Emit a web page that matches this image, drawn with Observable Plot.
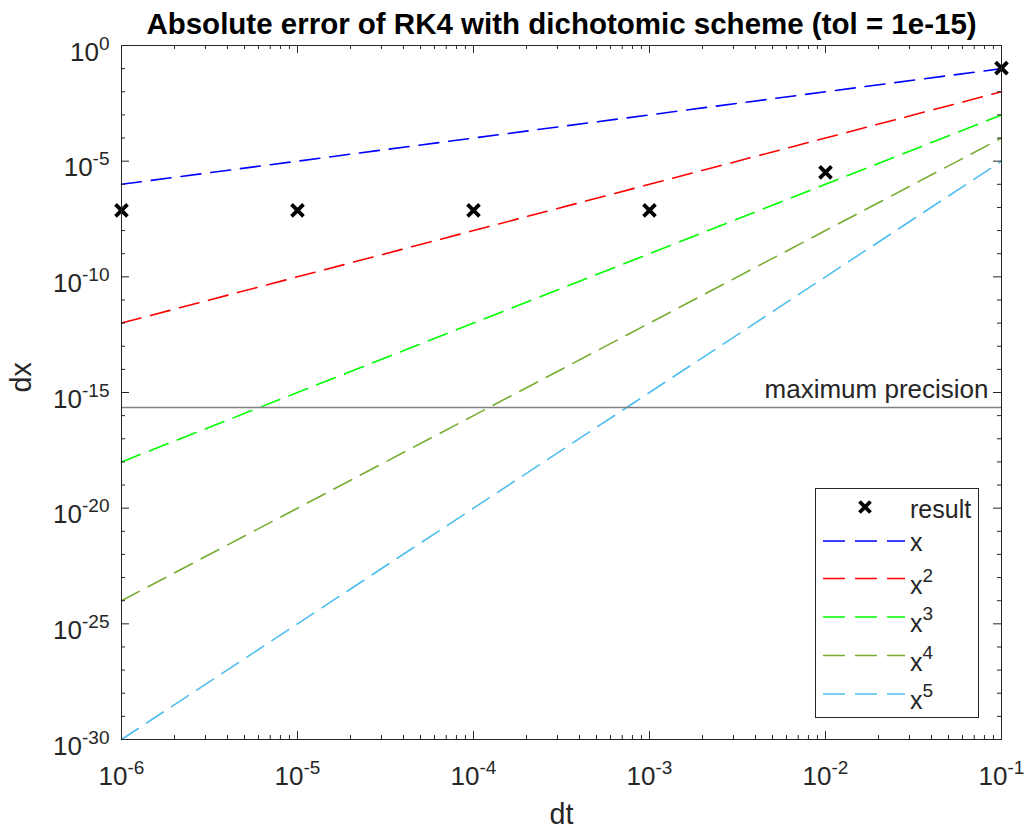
<!DOCTYPE html>
<html><head><meta charset="utf-8">
<script src="https://cdn.jsdelivr.net/npm/d3@7"></script>
<script src="https://cdn.jsdelivr.net/npm/@observablehq/plot@0.6"></script>
<style>
body{margin:0;background:#fff;}
#wrap{position:relative;width:1027px;height:829px;font-family:"Liberation Sans",Arial,Helvetica,sans-serif;}
#legend{position:absolute;left:815px;top:488px;}
</style></head><body><div id="wrap"></div>
<script>
// ---- data ----
const title = "Absolute error of RK4 with dichotomic scheme (tol = 1e-15)";
const xLabel = "dt";
const yLabel = "dx";
const dt = [1e-6, 1e-5, 1e-4, 1e-3, 1e-2, 1e-1];
const resultDx = [7.5e-8, 7.5e-8, 7.5e-8, 7.5e-8, 3.3e-6, 1.05e-1];
const refX1 = [1e-6, 1e-5, 1e-4, 1e-3, 1e-2, 1e-1];
const refX2 = [1e-12, 1e-10, 1e-8, 1e-6, 1e-4, 1e-2];
const refX3 = [1e-18, 1e-15, 1e-12, 1e-9, 1e-6, 1e-3];
const refX4 = [1e-24, 1e-20, 1e-16, 1e-12, 1e-8, 1e-4];
const refX5 = [1e-30, 1e-25, 1e-20, 1e-15, 1e-10, 1e-5];
const seriesNames = ["x", "x^2", "x^3", "x^4", "x^5"];
const seriesColors = ["#0000ff", "#ff0000", "#00ff00", "#77ac30", "#4dbeee"];
const resultLabel = "result";
const maxPrecision = 2.22e-16;
const maxPrecisionLabel = "maximum precision";
const xDomain = [1e-6, 1e-1];
const yDomain = [1e-30, 1];
const xTickValues = [1e-6, 1e-5, 1e-4, 1e-3, 1e-2, 1e-1];
const xTickLabels = ["10^-6", "10^-5", "10^-4", "10^-3", "10^-2", "10^-1"];
const yTickValues = [1e0, 1e-5, 1e-10, 1e-15, 1e-20, 1e-25, 1e-30];
const yTickLabels = ["10^0", "10^-5", "10^-10", "10^-15", "10^-20", "10^-25", "10^-30"];

// minor tick positions
const xMinorTicks = [];
for (let e = -6; e <= -2; e++) for (let m = 2; m <= 9; m++) xMinorTicks.push(m * Math.pow(10, e));
const yMinorTicks = [];
for (let e = 0; e >= -30; e--) if (e % 5 !== 0) yMinorTicks.push(Math.pow(10, e));

const refSeries = [refX1, refX2, refX3, refX4, refX5];
const lineRows = [];
refSeries.forEach((vals, i) => vals.forEach((v, j) => lineRows.push({dt: dt[j], dx: v, series: seriesNames[i]})));
const resultRows = dt.map((d, i) => ({dt: d, dx: resultDx[i]}));

// ---- layout ----
const W = 1027, H = 829;
const mL = 121, mR = 26, mT = 45, mB = 90;
const fw = W - mL - mR, fh = H - mT - mB;
const axisColor = "#262626";
const dash = "20,10";

const chart = Plot.plot({
  width: W, height: H,
  marginLeft: mL, marginRight: mR, marginTop: mT, marginBottom: mB,
  style: {fontFamily: '"Liberation Sans", Arial, Helvetica, sans-serif', background: "white", overflow: "visible"},
  x: {type: "log", domain: xDomain, axis: null},
  y: {type: "log", domain: yDomain, axis: null},
  color: {domain: seriesNames, range: seriesColors},
  marks: [
    // reference lines
    Plot.line(lineRows, {x: "dt", y: "dx", z: "series", stroke: "series", strokeWidth: 1.6, strokeDasharray: dash}),
    // maximum precision
    Plot.ruleY([maxPrecision], {stroke: "#808080", strokeWidth: 1.5}),
    Plot.text([maxPrecisionLabel], {x: () => xDomain[1], y: () => maxPrecision, text: d => d, textAnchor: "end", lineAnchor: "bottom", dx: -13, dy: -10, fontSize: 26, fill: axisColor}),
    // results
    Plot.dot(resultRows, {x: "dt", y: "dx", symbol: "times", r: 5.5, stroke: "black", strokeWidth: 3.8}),
    // frame
    Plot.frame({stroke: axisColor, strokeWidth: 1}),
    // ticks x
    Plot.tickX(xTickValues, {x: d => d, insetTop: fh - 8, stroke: axisColor}),
    Plot.tickX(xTickValues, {x: d => d, insetBottom: fh - 8, stroke: axisColor}),
    Plot.tickX(xMinorTicks, {x: d => d, insetTop: fh - 4, stroke: axisColor}),
    Plot.tickX(xMinorTicks, {x: d => d, insetBottom: fh - 4, stroke: axisColor}),
    // ticks y
    Plot.tickY(yTickValues, {y: d => d, insetRight: fw - 8, stroke: axisColor}),
    Plot.tickY(yTickValues, {y: d => d, insetLeft: fw - 8, stroke: axisColor}),
    Plot.tickY(yMinorTicks, {y: d => d, insetRight: fw - 4, stroke: axisColor}),
    Plot.tickY(yMinorTicks, {y: d => d, insetLeft: fw - 4, stroke: axisColor}),
    // tick labels
    Plot.text(xTickValues, {x: d => d, frameAnchor: "bottom", text: (d, i) => xTickLabels[i], lineAnchor: "bottom", dy: 45, fontSize: 26, fill: axisColor, textAnchor: "middle"}),
    Plot.text(yTickValues, {y: d => d, frameAnchor: "left", text: (d, i) => yTickLabels[i], lineAnchor: "bottom", dx: -12, dy: 15, fontSize: 26, fill: axisColor, textAnchor: "end"}),
    // axis labels
    Plot.text([xLabel], {frameAnchor: "bottom", text: d => d, lineAnchor: "bottom", dy: 84, fontSize: 28.6, fill: axisColor}),
    Plot.text([yLabel], {frameAnchor: "left", text: d => d, lineAnchor: "middle", rotate: -90, dx: -100, fontSize: 28.6, fill: axisColor}),
    // title
    Plot.text([title], {frameAnchor: "top", text: d => d, lineAnchor: "bottom", dy: -12, fontSize: 29.5, fontWeight: "bold", fill: "black"})
  ]
});

// superscripts
d3.select(chart).selectAll("text").each(function () {
  const t = this.textContent;
  const m = /^(.*)\^(.+)$/.exec(t);
  if (!m) return;
  this.textContent = m[1];
  d3.select(this).append("tspan").attr("dy", -11).attr("font-size", 19).text(m[2]);
});

const wrap = document.getElementById("wrap");
wrap.appendChild(chart);

// ---- legend ----
const lg = d3.select(wrap).append("svg").attr("id", "legend").attr("width", 164).attr("height", 230)
  .style("font-family", '"Liberation Sans", Arial, Helvetica, sans-serif');
lg.append("rect").attr("x", 0.5).attr("y", 0.5).attr("width", 163).attr("height", 229).attr("fill", "white").attr("stroke", axisColor);
// result marker
const mk = lg.append("g").attr("transform", "translate(50,19)").attr("stroke", "black").attr("stroke-width", 3.8);
mk.append("line").attr("x1", -5.5).attr("y1", -5.5).attr("x2", 5.5).attr("y2", 5.5);
mk.append("line").attr("x1", -5.5).attr("y1", 5.5).attr("x2", 5.5).attr("y2", -5.5);
lg.append("text").attr("x", 95).attr("y", 30).attr("font-size", 25).attr("fill", axisColor).text(resultLabel);
const rows = [53, 90.5, 129, 167.5, 206];
seriesNames.forEach((name, i) => {
  const y = rows[i];
  lg.append("line").attr("x1", 8).attr("x2", 90).attr("y1", y).attr("y2", y)
    .attr("stroke", seriesColors[i]).attr("stroke-width", 1.6).attr("stroke-dasharray", "22,10");
  const parts = name.split("^");
  const tx = lg.append("text").attr("x", 95).attr("y", y + (parts.length > 1 ? 15 : 10)).attr("font-size", 25).attr("fill", axisColor);
  tx.append("tspan").text(parts[0]);
  if (parts.length > 1) tx.append("tspan").attr("dy", -12).attr("font-size", 19).text(parts[1]);
});
</script>
</body></html>
